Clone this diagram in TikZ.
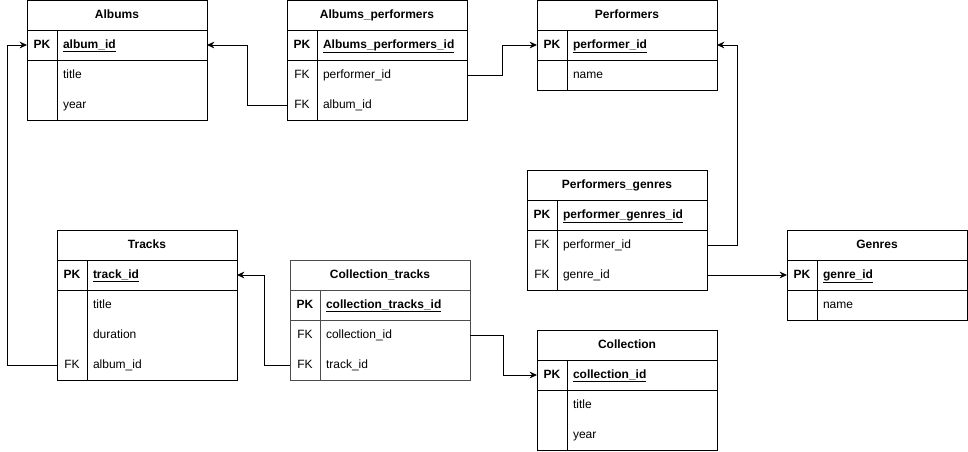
\documentclass[tikz,border=0pt]{standalone}
\usepackage{fontspec}
\setmainfont{Liberation Sans}
\usetikzlibrary{arrows.meta}

\begin{document}
\begin{tikzpicture}[x=0.75pt, y=-0.75pt, line width=0.75pt,
    every node/.style={font=\fontsize{9pt}{11pt}\selectfont, text height=6.6pt, text depth=1.9pt, outer sep=0pt},
    titleCell/.style={draw, minimum width=135pt, minimum height=22.5pt, anchor=north west, inner sep=0pt, font=\fontsize{9pt}{11pt}\selectfont\bfseries},
    keyCell/.style={minimum width=22.5pt, minimum height=22.5pt, anchor=north west, inner sep=0pt},
    pkKey/.style={keyCell, draw, font=\fontsize{9pt}{11pt}\selectfont\bfseries},
    fieldCell/.style={minimum height=22.5pt, anchor=north west, inner xsep=4.5pt, inner ysep=0pt, text width=103.5pt, align=left},
    pkField/.style={fieldCell, draw, font=\fontsize{9pt}{11pt}\selectfont\bfseries},
    grayLine/.style={draw=black!70},
    link/.style={-{Stealth[length=5.5pt, width=5pt]}}]
    \useasboundingbox (0,0) rectangle (968,451);

    % Albums
    \node[titleCell](albums) at (27, 0) {Albums};
    \node[pkKey](albums-k0) at (27, 30) {PK};
    \node[pkField](albums-f0) at (57, 30) {\underline{album\_id}};
    \node[keyCell](albums-k1) at (27, 60) {};
    \node[fieldCell](albums-f1) at (57, 60) {title};
    \node[keyCell](albums-k2) at (27, 90) {};
    \node[fieldCell](albums-f2) at (57, 90) {year};
    \draw (albums-k1.north west) rectangle (albums-f2.south east);
    \draw (albums-k1.north east) -- (albums-k2.south east);

    % Albums_performers
    \node[titleCell](ap) at (287, 0) {Albums\_performers};
    \node[pkKey](ap-k0) at (287, 30) {PK};
    \node[pkField](ap-f0) at (317, 30) {\underline{Albums\_performers\_id}};
    \node[keyCell](ap-k1) at (287, 60) {FK};
    \node[fieldCell](ap-f1) at (317, 60) {performer\_id};
    \node[keyCell](ap-k2) at (287, 90) {FK};
    \node[fieldCell](ap-f2) at (317, 90) {album\_id};
    \draw (ap-k1.north west) rectangle (ap-f2.south east);
    \draw (ap-k1.north east) -- (ap-k2.south east);

    % Performers
    \node[titleCell](perf) at (537, 0) {Performers};
    \node[pkKey](perf-k0) at (537, 30) {PK};
    \node[pkField](perf-f0) at (567, 30) {\underline{performer\_id}};
    \node[keyCell](perf-k1) at (537, 60) {};
    \node[fieldCell](perf-f1) at (567, 60) {name};
    \draw (perf-k1.north west) rectangle (perf-f1.south east);
    \draw (perf-k1.north east) -- (perf-k1.south east);

    % Performers_genres
    \node[titleCell](pg) at (527, 170) {Performers\_genres};
    \node[pkKey](pg-k0) at (527, 200) {PK};
    \node[pkField](pg-f0) at (557, 200) {\underline{performer\_genres\_id}};
    \node[keyCell](pg-k1) at (527, 230) {FK};
    \node[fieldCell](pg-f1) at (557, 230) {performer\_id};
    \node[keyCell](pg-k2) at (527, 260) {FK};
    \node[fieldCell](pg-f2) at (557, 260) {genre\_id};
    \draw (pg-k1.north west) rectangle (pg-f2.south east);
    \draw (pg-k1.north east) -- (pg-k2.south east);

    % Genres
    \node[titleCell](genres) at (787, 230) {Genres};
    \node[pkKey](genres-k0) at (787, 260) {PK};
    \node[pkField](genres-f0) at (817, 260) {\underline{genre\_id}};
    \node[keyCell](genres-k1) at (787, 290) {};
    \node[fieldCell](genres-f1) at (817, 290) {name};
    \draw (genres-k1.north west) rectangle (genres-f1.south east);
    \draw (genres-k1.north east) -- (genres-k1.south east);

    % Tracks
    \node[titleCell](tracks) at (57, 230) {Tracks};
    \node[pkKey](tracks-k0) at (57, 260) {PK};
    \node[pkField](tracks-f0) at (87, 260) {\underline{track\_id}};
    \node[keyCell](tracks-k1) at (57, 290) {};
    \node[fieldCell](tracks-f1) at (87, 290) {title};
    \node[keyCell](tracks-k2) at (57, 320) {};
    \node[fieldCell](tracks-f2) at (87, 320) {duration};
    \node[keyCell](tracks-k3) at (57, 350) {FK};
    \node[fieldCell](tracks-f3) at (87, 350) {album\_id};
    \draw (tracks-k1.north west) rectangle (tracks-f3.south east);
    \draw (tracks-k1.north east) -- (tracks-k3.south east);

    % Collection_tracks
    \node[titleCell, grayLine](ct) at (290, 260) {Collection\_tracks};
    \node[pkKey, grayLine](ct-k0) at (290, 290) {PK};
    \node[pkField, grayLine](ct-f0) at (320, 290) {\underline{collection\_tracks\_id}};
    \node[keyCell](ct-k1) at (290, 320) {FK};
    \node[fieldCell](ct-f1) at (320, 320) {collection\_id};
    \node[keyCell](ct-k2) at (290, 350) {FK};
    \node[fieldCell](ct-f2) at (320, 350) {track\_id};
    \draw[grayLine] (ct-k1.north west) rectangle (ct-f2.south east);
    \draw[grayLine] (ct-k1.north east) -- (ct-k2.south east);

    % Collection
    \node[titleCell](coll) at (537, 330) {Collection};
    \node[pkKey](coll-k0) at (537, 360) {PK};
    \node[pkField](coll-f0) at (567, 360) {\underline{collection\_id}};
    \node[keyCell](coll-k1) at (537, 390) {};
    \node[fieldCell](coll-f1) at (567, 390) {title};
    \node[keyCell](coll-k2) at (537, 420) {};
    \node[fieldCell](coll-f2) at (567, 420) {year};
    \draw (coll-k1.north west) rectangle (coll-f2.south east);
    \draw (coll-k1.north east) -- (coll-k2.south east);

    % relations
    \draw[link] (ap-k2.west) -- ++(-40, 0) |- (albums-f0.east);
    \draw[link] (ap-f1.east) -- ++(35, 0) |- (perf-k0.west);
    \draw[link] (pg-f1.east) -- ++(30, 0) |- (perf-f0.east);
    \draw[link] (pg-f2.east) -- (genres-k0.west);
    \draw[link] (tracks-k3.west) -- ++(-50, 0) |- (albums-k0.west);
    \draw[link] (ct-k2.west) -- ++(-26, 0) |- (tracks-f0.east);
    \draw[link] (ct-f1.east) -- ++(33, 0) |- (coll-k0.west);
\end{tikzpicture}
\end{document}
